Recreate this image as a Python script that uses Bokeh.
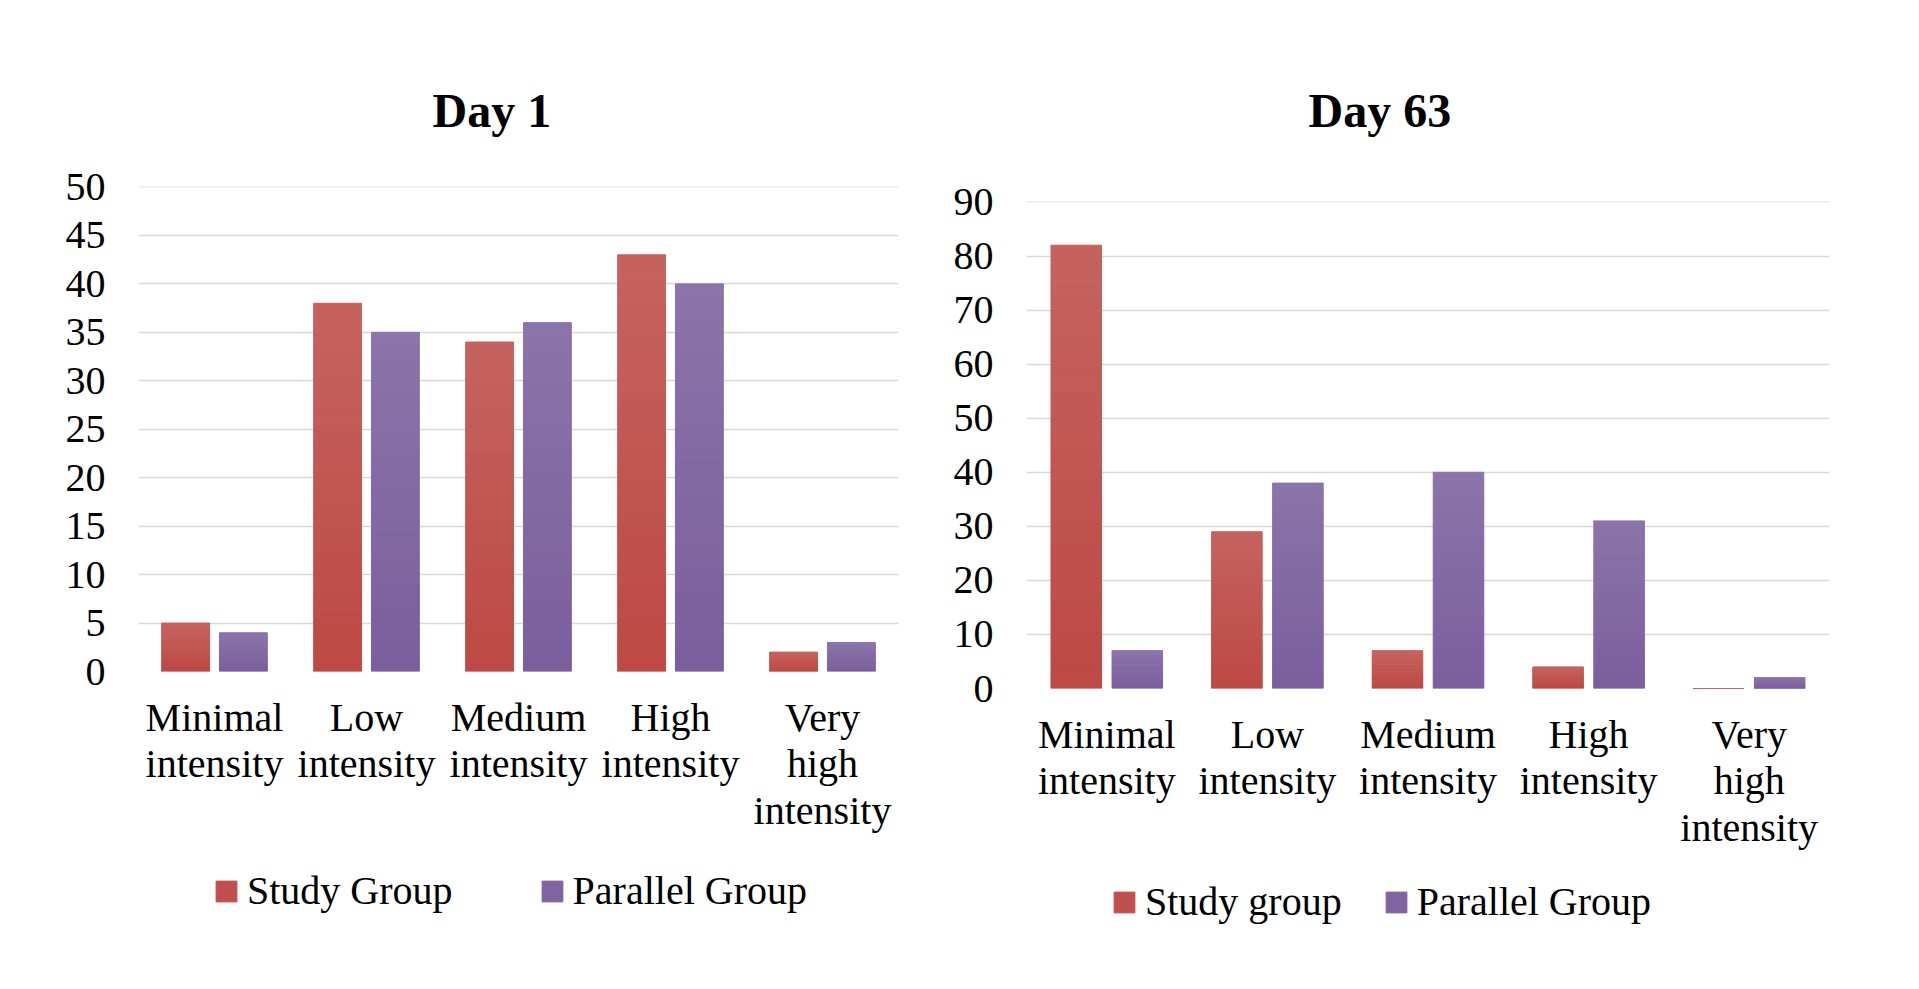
from bokeh.plotting import figure
from bokeh.models import ColumnDataSource, FixedTicker, Legend, LegendItem
from bokeh.transform import dodge
from bokeh.layouts import row, column
from bokeh.embed import file_html
from bokeh.resources import INLINE

categories = ["Minimal\nintensity", "Low\nintensity", "Medium\nintensity",
              "High\nintensity", "Very\nhigh\nintensity"]

day1_study = [5, 38, 34, 43, 2]
day1_parallel = [4, 35, 36, 40, 3]
day63_study = [82, 29, 7, 4, 0]
day63_parallel = [7, 38, 40, 31, 2]

day1_ticks = [0, 5, 10, 15, 20, 25, 30, 35, 40, 45, 50]
day63_ticks = [0, 10, 20, 30, 40, 50, 60, 70, 80, 90]

FONT = "Liberation Serif"
RED_TOP, RED_BOT = (197, 99, 96), (190, 72, 68)
PUR_TOP, PUR_BOT = (139, 116, 169), (123, 94, 158)
RED_MID, PUR_MID = "#c0504d", "#8064a2"
NSLICES = 24


def mix(a, b, t):
    return "#%02x%02x%02x" % tuple(int(round(a[i] + (b[i] - a[i]) * t)) for i in range(3))


def gradient_bars(p, vals, offset, top_c, bot_c):
    for k in range(NSLICES):
        src = ColumnDataSource(dict(
            cat=categories,
            b=[v * k / NSLICES for v in vals],
            t=[v * (k + 1) / NSLICES for v in vals]))
        c = mix(bot_c, top_c, (k + 0.5) / NSLICES)
        p.vbar(x=dodge("cat", offset, range=p.x_range), bottom="b", top="t",
               width=0.315, source=src, fill_color=c, line_color=c, line_width=1)


def make_chart(title, study, parallel, ticks, ymax, width, height,
               bl, br, bt, bb, title_standoff, title_offset):
    p = figure(x_range=categories, y_range=(0, ymax * 1.001), width=width, height=height,
               output_backend="svg", toolbar_location=None,
               min_border_left=bl, min_border_right=br,
               min_border_top=bt, min_border_bottom=bb)
    p.x_range.range_padding = 0
    p.outline_line_color = None
    p.title.text = title
    p.title.text_font = FONT
    p.title.text_font_size = "48px"
    p.title.text_font_style = "bold"
    p.title.text_color = "#000000"
    p.title.align = "left"
    p.title.offset = title_offset
    p.title.standoff = title_standoff

    gradient_bars(p, study, -0.19, RED_TOP, RED_BOT)
    gradient_bars(p, parallel, 0.19, PUR_TOP, PUR_BOT)

    p.xgrid.grid_line_color = None
    p.ygrid.grid_line_color = "#d9d9d9"
    p.ygrid.grid_line_width = 1.3
    p.yaxis.ticker = FixedTicker(ticks=ticks)
    for ax in (p.xaxis, p.yaxis):
        ax.axis_line_color = None
        ax.major_tick_line_color = None
        ax.minor_tick_line_color = None
        ax.major_tick_out = 0
        ax.major_tick_in = 0
        ax.major_label_text_font = FONT
        ax.major_label_text_color = "#000000"
    p.yaxis.major_label_text_font_size = "40px"
    p.yaxis.major_label_standoff = 33
    p.xaxis.major_label_text_font_size = "40px"
    p.xaxis.major_label_text_line_height = 1.04
    p.xaxis.major_label_standoff = 23
    return p


def make_legend(labels, width, height, spacing, loc):
    lp = figure(width=width, height=height, output_backend="svg", toolbar_location=None,
                x_axis_location=None, y_axis_location=None, min_border=0,
                x_range=(0, 1), y_range=(0, 1))
    lp.outline_line_color = None
    lp.grid.visible = False
    r1 = lp.vbar(x="x", top="top", width=0.1,
                 source=ColumnDataSource(dict(x=[5], top=[0])),
                 fill_color=RED_MID, line_color=RED_MID)
    r2 = lp.vbar(x="x", top="top", width=0.1,
                 source=ColumnDataSource(dict(x=[5], top=[0])),
                 fill_color=PUR_MID, line_color=PUR_MID)
    legend = Legend(items=[LegendItem(label=labels[0], renderers=[r1]),
                           LegendItem(label=labels[1], renderers=[r2])],
                    orientation="horizontal", location=loc,
                    label_text_font=FONT, label_text_font_size="40px",
                    label_text_color="#000000",
                    glyph_width=26, glyph_height=26, label_standoff=8,
                    spacing=spacing, padding=0, margin=0,
                    border_line_color=None, background_fill_alpha=0)
    lp.add_layout(legend)
    return lp


left = make_chart("Day 1", day1_study, day1_parallel, day1_ticks, 50,
                  948, 850, 138, 50, 186, 179, 100, 294)
left_leg = make_legend(["Study Group", "Parallel Group"], 948, 123, 86, (75, 59))

right = make_chart("Day 63", day63_study, day63_parallel, day63_ticks, 90,
                   960, 867, 78, 79, 201, 179, 130, 282)
right_leg = make_legend(["Study group", "Parallel Group"], 960, 106, 41, (85, 48))

layout = row(column(left, left_leg), column(right, right_leg))
open("out.html", "w").write(file_html(layout, INLINE))
